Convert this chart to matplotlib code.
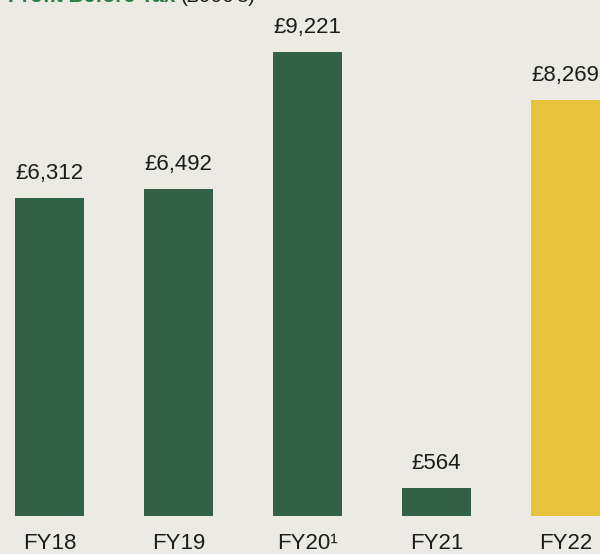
import matplotlib
import matplotlib.pyplot as plt
import matplotlib.transforms as mtransforms

matplotlib.use("Agg")

years = ["FY18", "FY19", "FY20\u00b9", "FY21", "FY22"]
profit = [6312, 6492, 9221, 564, 8269]
value_labels = ["£6,312", "£6,492", "£9,221", "£564", "£8,269"]
bar_colors = ["#336145", "#336145", "#336145", "#336145", "#e8c33c"]

BG = "#ebebe4"
TEXT = "#1c1c1c"

plt.rcParams["font.family"] = ["Liberation Sans", "DejaVu Sans"]

fig = plt.figure(figsize=(6.0, 5.54), dpi=100, facecolor=BG)
ax = fig.add_axes([0, 0, 1, 1])
ax.set_facecolor(BG)

x = list(range(len(years)))
ax.bar(x, profit, width=0.535, color=bar_colors)

# scale: ~19.9 units per pixel, baseline 38 px above the bottom edge
units_px = 19.88
ax.set_ylim(-38 * units_px, 516 * units_px)
ax.set_xlim(-0.384, 4.267)

for xi, v, lab in zip(x, profit, value_labels):
    ax.text(xi, v + 19 * units_px, lab, ha="center", va="baseline",
            fontsize=16, color=TEXT)

trans = mtransforms.blended_transform_factory(ax.transData, fig.transFigure)
for xi, yr in zip(x, years):
    ax.text(xi, 5 / 554, yr, ha="center", va="baseline", fontsize=16,
            color=TEXT, transform=trans)

# clipped title at the very top
t1 = fig.text(8 / 600, 1 + 4 / 554, "Profit Before Tax", ha="left", va="center",
              fontsize=15, fontweight="bold", color="#2f7a45")
fig.canvas.draw()
bb = t1.get_window_extent()
fig.text((bb.x1 + 5) / 600, 1 + 4 / 554, "(£000's)", ha="left", va="center",
         fontsize=15, color=TEXT)

ax.axis("off")
fig.savefig("out.png", dpi=100, facecolor=BG)
